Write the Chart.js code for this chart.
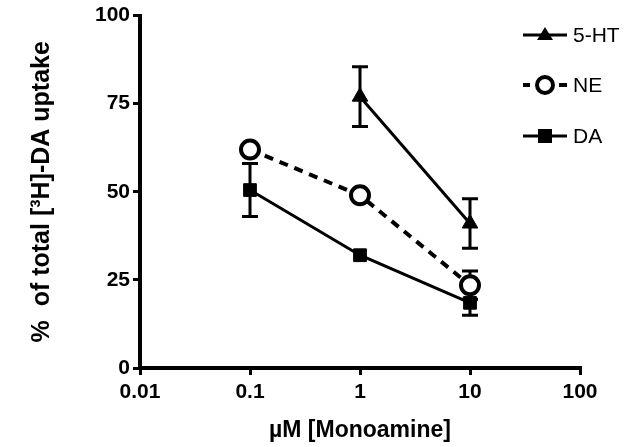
<!DOCTYPE html>
<html>
<head>
<meta charset="utf-8">
<script src="https://cdn.jsdelivr.net/npm/chart.js@4"></script>
<style>
  html, body { margin: 0; padding: 0; background: #fff; }
  #wrap { width: 633px; height: 447px; }
</style>
</head>
<body>
<div id="wrap"><canvas id="chart"></canvas></div>
<script>
const doses = [0.1, 1, 10];
const xTicks = [0.01, 0.1, 1, 10, 100];
const yTicks = [0, 25, 50, 75, 100];

const ht5 = [null, 77, 41];
const ht5Err = [null, 8.5, 7];
const ne = [62, 49, 23.5];
const neErr = [null, null, 4];
const da = [50.5, 32, 18.5];
const daErr = [7.5, null, 3.5];

function toPoints(vals) {
  return doses.map((d, i) => ({ x: d, y: vals[i] })).filter(p => p.y !== null);
}

const errors = [ht5Err, neErr, daErr];

const errorBars = {
  id: 'errorBars',
  beforeDatasetsDraw(chart) {
    const ctx = chart.ctx;
    const xs = chart.scales.x, ys = chart.scales.y;
    ctx.save();
    ctx.strokeStyle = '#000';
    ctx.lineWidth = 3;
    errors.forEach((errs, di) => {
      const vals = [ht5, ne, da][di];
      doses.forEach((d, i) => {
        if (vals[i] === null || !errs[i]) return;
        const px = xs.getPixelForValue(d);
        const top = ys.getPixelForValue(vals[i] + errs[i]);
        const bot = ys.getPixelForValue(vals[i] - errs[i]);
        ctx.beginPath();
        ctx.moveTo(px, top); ctx.lineTo(px, bot);
        ctx.moveTo(px - 8, top); ctx.lineTo(px + 8, top);
        ctx.moveTo(px - 8, bot); ctx.lineTo(px + 8, bot);
        ctx.stroke();
      });
    });
    ctx.restore();
  }
};

const sideLegend = {
  id: 'sideLegend',
  afterDraw(chart) {
    const ctx = chart.ctx;
    const items = [
      { label: '5-HT', style: 'triangle', y: 35 },
      { label: 'NE', style: 'circle', y: 85 },
      { label: 'DA', style: 'rect', y: 136 }
    ];
    ctx.save();
    items.forEach(it => {
      const y = it.y;
      ctx.strokeStyle = '#000';
      ctx.fillStyle = '#000';
      ctx.lineWidth = it.style === 'circle' ? 4 : 3;
      ctx.beginPath();
      if (it.style === 'circle') {
        ctx.moveTo(523, y); ctx.lineTo(530, y);
        ctx.moveTo(559, y); ctx.lineTo(567, y);
      } else {
        ctx.moveTo(523, y); ctx.lineTo(567, y);
      }
      ctx.stroke();
      const cx = 545;
      if (it.style === 'triangle') {
        ctx.beginPath();
        ctx.moveTo(cx, y - 8); ctx.lineTo(cx + 8, y + 5); ctx.lineTo(cx - 8, y + 5);
        ctx.closePath(); ctx.fill();
      } else if (it.style === 'circle') {
        ctx.fillStyle = '#fff';
        ctx.lineWidth = 4;
        ctx.beginPath(); ctx.arc(cx, y, 8, 0, Math.PI * 2);
        ctx.fill(); ctx.stroke();
      } else {
        ctx.fillRect(cx - 7, y - 7, 14, 14);
      }
      ctx.fillStyle = '#000';
      ctx.font = '21px "Liberation Sans", Arial, sans-serif';
      ctx.textBaseline = 'middle';
      ctx.fillText(it.label, 573, y + 1);
    });
    ctx.restore();
  }
};

const tickFont = { family: '"Liberation Sans", Arial, sans-serif', size: 21, weight: 'bold' };
const titleFont = { family: '"Liberation Sans", Arial, sans-serif', size: 23, weight: 'bold' };

new Chart(document.getElementById('chart'), {
  type: 'line',
  data: {
    datasets: [
      {
        label: '5-HT', data: toPoints(ht5),
        borderColor: '#000', backgroundColor: '#000', borderWidth: 3,
        pointStyle: 'triangle', pointRadius: 9, pointBorderWidth: 1
      },
      {
        label: 'NE', data: toPoints(ne),
        borderColor: '#000', backgroundColor: '#fff', borderWidth: 4, borderDash: [9, 7],
        pointStyle: 'circle', pointRadius: 9, pointBorderWidth: 4
      },
      {
        label: 'DA', data: toPoints(da),
        borderColor: '#000', backgroundColor: '#000', borderWidth: 3,
        pointStyle: 'rect', pointRadius: 9, pointBorderWidth: 1
      }
    ]
  },
  options: {
    responsive: true,
    maintainAspectRatio: false,
    animation: false,
    layout: { padding: { top: 13, right: 53, left: 0, bottom: 0 } },
    plugins: { legend: { display: false }, tooltip: { enabled: false } },
    scales: {
      x: {
        type: 'logarithmic', min: 0.01, max: 100,
        afterBuildTicks(scale) { scale.ticks = xTicks.map(v => ({ value: v })); },
        afterFit(scale) { scale.height = 79; },
        border: { display: true, width: 4, color: '#000' },
        grid: { drawOnChartArea: false, drawTicks: true, tickLength: 7, lineWidth: 3, color: '#000' },
        ticks: { color: '#000', font: tickFont, padding: 5, maxRotation: 0, autoSkip: false,
          callback: v => String(v) },
        title: { display: true, text: 'µM [Monoamine]', color: '#000', font: titleFont,
          padding: { top: 4, bottom: 3 } }
      },
      y: {
        type: 'linear', min: 0, max: 100,
        afterBuildTicks(scale) { scale.ticks = yTicks.map(v => ({ value: v })); },
        afterFit(scale) { scale.width = 140; },
        border: { display: true, width: 4, color: '#000' },
        grid: { drawOnChartArea: false, drawTicks: true, tickLength: 7, lineWidth: 3, color: '#000' },
        ticks: { color: '#000', font: tickFont, padding: 3 },
        title: { display: true, text: '%  of total [³H]-DA uptake', color: '#000',
          font: { family: '"Liberation Sans", Arial, sans-serif', size: 25, weight: 'bold' },
          padding: { top: 27, bottom: 10 } }
      }
    }
  },
  plugins: [errorBars, sideLegend]
});
</script>
</body>
</html>
